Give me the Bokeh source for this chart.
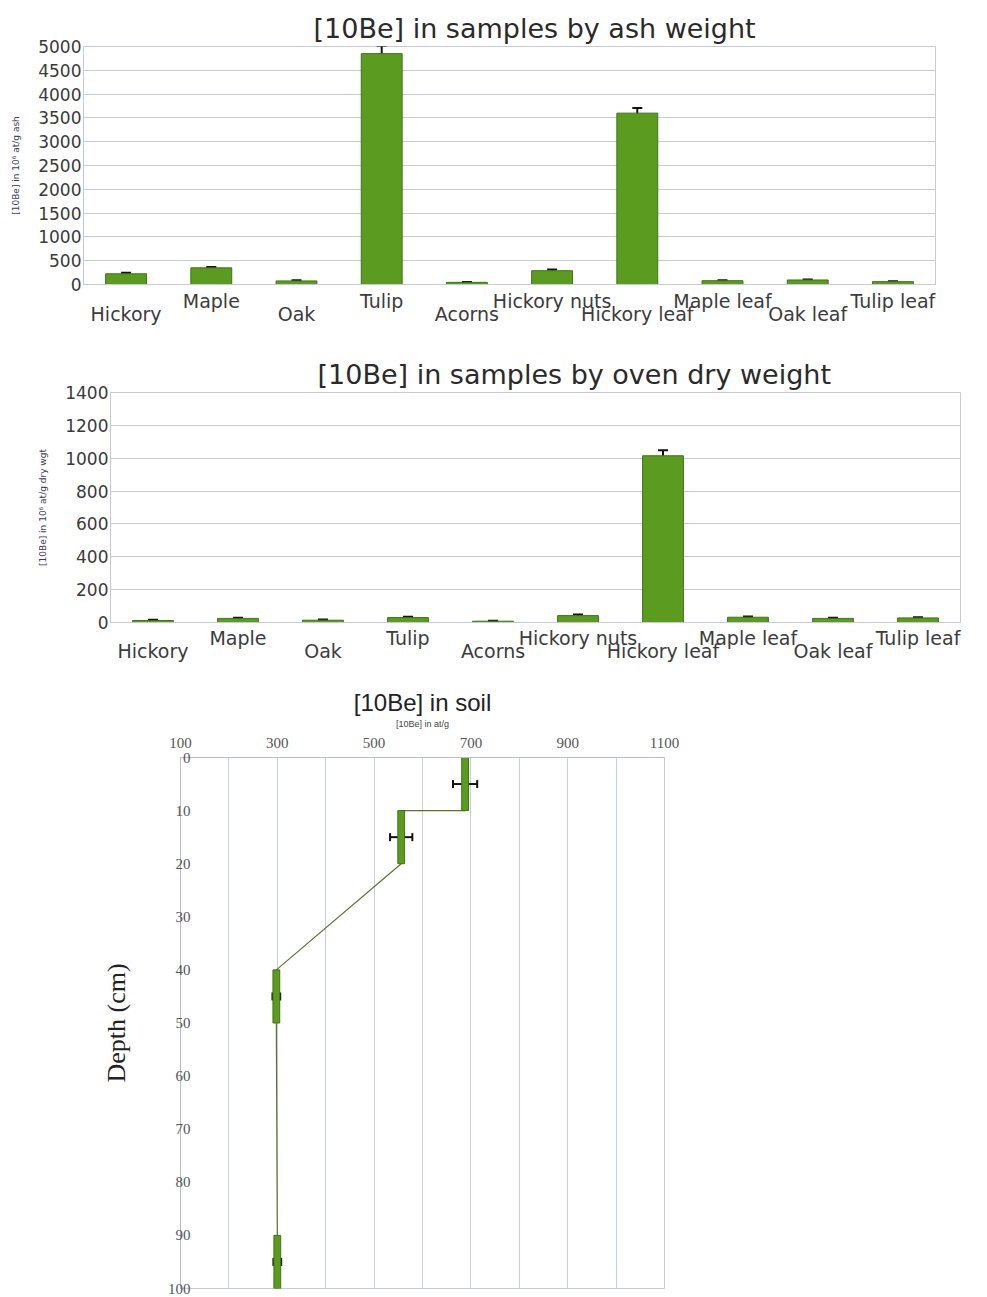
from bokeh.plotting import figure
from bokeh.models import ColumnDataSource, Whisker, FixedTicker, LinearAxis, Range1d, TeeHead
from bokeh.layouts import column
from bokeh.embed import file_html
from bokeh.resources import INLINE

# ---------------- data ----------------
categories = ["Hickory", "Maple", "Oak", "Tulip", "Acorns", "Hickory nuts",
              "Hickory leaf", "Maple leaf", "Oak leaf", "Tulip leaf"]
ash_values = [225, 350, 75, 4850, 45, 290, 3600, 80, 95, 60]
ash_errors = [20, 20, 15, 160, 10, 25, 110, 10, 10, 10]
ash_ticks = [0, 500, 1000, 1500, 2000, 2500, 3000, 3500, 4000, 4500, 5000]

dry_values = [12, 25, 14, 30, 8, 42, 1015, 32, 25, 28]
dry_errors = [4, 4, 4, 5, 3, 6, 33, 5, 4, 4]
dry_ticks = [0, 200, 400, 600, 800, 1000, 1200, 1400]

soil_top = [0, 10, 40, 90]
soil_bottom = [10, 20, 50, 100]
soil_be = [688, 556, 298, 300]
soil_err = [25, 23, 8, 8]
soil_x_ticks = [100, 300, 500, 700, 900, 1100]
soil_x_grid = [100, 200, 300, 400, 500, 600, 700, 800, 900, 1000, 1100]
soil_depth_ticks = [0, 10, 20, 30, 40, 50, 60, 70, 80, 90, 100]

GREEN = "#5b9b1f"
GREEN_EDGE = "#3f7412"
GRID = "#c6cad2"
SANS = "DejaVu Sans"


def bar_chart(title, ylabel, values, errors, yticks, width, height,
              bl, br, bt, bb, title_offset, ylab_standoff,
              odd_standoff, even_standoff):
    n = len(categories)
    idx = list(range(n))
    p = figure(width=width, height=height,
               x_range=Range1d(-0.5, n - 0.5),
               y_range=Range1d(yticks[0], yticks[-1]),
               output_backend="svg", toolbar_location=None,
               min_border_left=bl, min_border_right=br,
               min_border_top=bt, min_border_bottom=bb)
    p.frame_align = False
    p.background_fill_color = "white"
    p.border_fill_color = "white"
    p.outline_line_color = GRID

    p.title.text = title
    p.title.text_font = SANS
    p.title.text_font_size = "27px"
    p.title.text_font_style = "normal"
    p.title.text_color = "#2a2a2a"
    p.title.align = "left"
    p.title.offset = title_offset
    p.title.standoff = 6

    src = ColumnDataSource(dict(x=idx, top=values,
                                upper=[v + e for v, e in zip(values, errors)],
                                lower=[v - e for v, e in zip(values, errors)]))
    p.vbar(x="x", top="top", bottom=0, width=0.48, source=src,
           fill_color=GREEN, line_color=GREEN_EDGE, line_width=1)
    w = Whisker(source=src, base="x", upper="upper", lower="lower",
                line_color="#111111", line_width=2,
                upper_head=TeeHead(size=10, line_color="#111111", line_width=2),
                lower_head=TeeHead(size=10, line_color="#111111", line_width=2))
    p.add_layout(w)

    # y axis
    p.yaxis.ticker = FixedTicker(ticks=yticks)
    p.yaxis.major_tick_line_color = None
    p.yaxis.minor_tick_line_color = None
    p.yaxis.major_tick_out = 0
    p.yaxis.major_label_standoff = 2
    p.yaxis.axis_line_color = GRID
    p.yaxis.major_label_text_font = SANS
    p.yaxis.major_label_text_font_size = "17px"
    p.yaxis.major_label_text_color = "#3a3a3a"
    p.yaxis.axis_label = ylabel
    p.yaxis.axis_label_text_font = SANS
    p.yaxis.axis_label_text_font_size = "9px"
    p.yaxis.axis_label_text_font_style = "normal"
    p.yaxis.axis_label_text_color = "#3a3a5a"
    p.yaxis.axis_label_standoff = ylab_standoff

    p.xgrid.visible = False
    p.ygrid.ticker = FixedTicker(ticks=yticks)
    p.ygrid.grid_line_color = GRID
    p.ygrid.grid_line_width = 1

    odd = [i for i in idx if i % 2 == 1]
    even = [i for i in idx if i % 2 == 0]

    ax_a = p.xaxis[0]
    ax_a.ticker = FixedTicker(ticks=odd)
    ax_a.major_label_overrides = {i: categories[i] for i in odd}
    ax_b = LinearAxis(ticker=FixedTicker(ticks=even),
                      major_label_overrides={i: categories[i] for i in even})
    p.add_layout(ax_b, "below")
    for ax, so in ((ax_a, odd_standoff), (ax_b, even_standoff)):
        ax.major_tick_line_color = None
        ax.minor_tick_line_color = None
        ax.major_tick_out = 0
        ax.major_tick_in = 0
        ax.major_label_standoff = so
        ax.major_label_text_font = SANS
        ax.major_label_text_font_size = "19px"
        ax.major_label_text_color = "#3c3c3c"
    ax_a.axis_line_color = GRID
    ax_b.axis_line_color = None
    return p


p1 = bar_chart("[10Be] in samples by ash weight", "[10Be] in 10\u2076 at/g ash",
               ash_values, ash_errors, ash_ticks,
               width=975, height=346, bl=83, br=40, bt=46, bb=62,
               title_offset=230, ylab_standoff=14,
               odd_standoff=5, even_standoff=-12)

p2 = bar_chart("[10Be] in samples by oven dry weight", "[10Be] in 10\u2076 at/g dry wgt",
               dry_values, dry_errors, dry_ticks,
               width=975, height=334, bl=110, br=15, bt=46, bb=58,
               title_offset=207, ylab_standoff=14,
               odd_standoff=4, even_standoff=-12)

# ---------------- soil profile ----------------
p3 = figure(width=684, height=616,
            x_range=Range1d(100, 1100), y_range=Range1d(100, 0),
            x_axis_location="above",
            output_backend="svg", toolbar_location=None,
            min_border_left=180, min_border_right=20,
            min_border_top=77, min_border_bottom=8)
p3.frame_align = False
p3.background_fill_color = "white"
p3.border_fill_color = "white"
p3.outline_line_color = GRID

p3.title.text = "[10Be] in soil"
p3.title.text_font = "Liberation Sans"
p3.title.text_font_size = "24px"
p3.title.text_font_style = "normal"
p3.title.text_color = "#222222"
p3.title.align = "center"
p3.title.standoff = 0

path_x, path_y = [], []
for be, t, b in zip(soil_be, soil_top, soil_bottom):
    path_x += [be, be]
    path_y += [t, b]
p3.line(path_x, path_y, line_color="#5f7035", line_width=1.2)

p3.vbar(x=soil_be, width=14, top=soil_top, bottom=soil_bottom,
        fill_color=GREEN, line_color=GREEN_EDGE, line_width=1)

mid = [(t + b) / 2 for t, b in zip(soil_top, soil_bottom)]
ssrc = ColumnDataSource(dict(mid=mid,
                             lo=[v - e for v, e in zip(soil_be, soil_err)],
                             hi=[v + e for v, e in zip(soil_be, soil_err)]))
p3.add_layout(Whisker(source=ssrc, base="mid", lower="lo", upper="hi", dimension="width",
                      line_color="#111111", line_width=2,
                      upper_head=TeeHead(size=8, line_color="#111111", line_width=2),
                      lower_head=TeeHead(size=8, line_color="#111111", line_width=2)))

p3.xaxis.ticker = FixedTicker(ticks=soil_x_ticks)
p3.xgrid.ticker = FixedTicker(ticks=soil_x_grid)
p3.xgrid.grid_line_color = "#c8cfdc"
p3.ygrid.visible = False
p3.yaxis.ticker = FixedTicker(ticks=soil_depth_ticks)

for ax in (p3.xaxis[0], p3.yaxis[0]):
    ax.major_tick_line_color = None
    ax.minor_tick_line_color = None
    ax.major_tick_out = 0
    ax.major_tick_in = 0
    ax.axis_line_color = "#b8bcc6"
    ax.major_label_text_font = "Liberation Serif"
    ax.major_label_text_font_size = "15px"
    ax.major_label_text_color = "#555555"

p3.xaxis.major_label_standoff = 10
p3.xaxis.axis_label = "[10Be] in at/g"
p3.xaxis.axis_label_text_font = "Liberation Sans"
p3.xaxis.axis_label_text_font_size = "9px"
p3.xaxis.axis_label_text_font_style = "normal"
p3.xaxis.axis_label_text_color = "#444444"
p3.xaxis.axis_label_standoff = 6

p3.yaxis.major_label_standoff = -10
p3.yaxis.axis_label = "Depth (cm)"
p3.yaxis.axis_label_text_font = "Liberation Serif"
p3.yaxis.axis_label_text_font_size = "26px"
p3.yaxis.axis_label_text_font_style = "normal"
p3.yaxis.axis_label_text_color = "#222222"
p3.yaxis.axis_label_standoff = 34

layout = column(p1, p2, p3)
open("out.html", "w").write(file_html(layout, INLINE))
